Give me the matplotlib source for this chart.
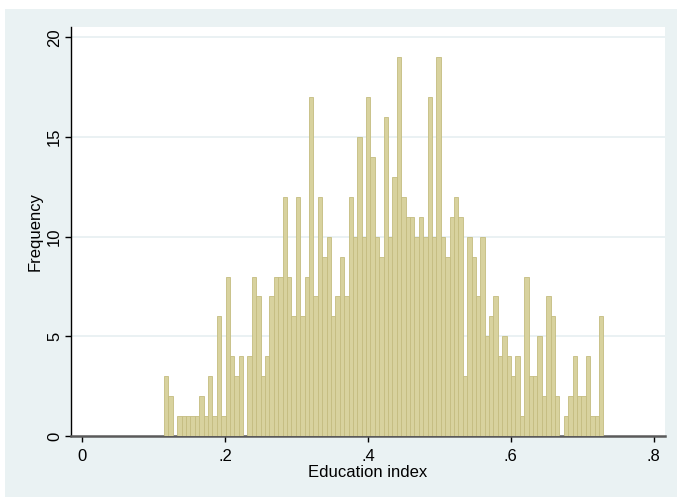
import matplotlib
matplotlib.use("Agg")
import matplotlib.pyplot as plt
import numpy as np

# Histogram of the education index: 100 equal-width bins
bin_start = 0.1143
bin_width = 0.006153
counts = [3, 2, 0, 1, 1, 1, 1, 1, 2, 1,
          3, 1, 6, 1, 8, 4, 3, 4, 0, 4,
          8, 7, 3, 4, 7, 8, 8, 12, 8, 6,
          12, 6, 8, 17, 7, 12, 9, 10, 6, 7,
          9, 7, 12, 10, 15, 10, 17, 14, 10, 9,
          16, 10, 13, 19, 12, 11, 11, 10, 11, 10,
          17, 10, 19, 10, 9, 11, 12, 11, 3, 10,
          9, 7, 10, 5, 6, 7, 4, 5, 4, 3,
          4, 1, 8, 3, 3, 5, 2, 7, 6, 2,
          0, 1, 2, 4, 2, 2, 4, 1, 1, 6]
x_ticks = [0, 0.2, 0.4, 0.6, 0.8]
x_tick_labels = ["0", ".2", ".4", ".6", ".8"]
y_ticks = [0, 5, 10, 15, 20]
y_tick_labels = ["0", "5", "10", "15", "20"]

plt.rcParams["font.family"] = ["Liberation Sans", "DejaVu Sans"]

W, H = 677, 497
fig = plt.figure(figsize=(W / 100, H / 100), dpi=100)
fig.patch.set_facecolor("white")

# light blue-grey graph region behind the plot area
bg = fig.add_axes([5 / W, 0, 1 - 5 / W, 1 - 9 / H], zorder=-5)
bg.set_facecolor("#EAF2F3")
bg.set_xticks([])
bg.set_yticks([])
for s in bg.spines.values():
    s.set_visible(False)

ax = fig.add_axes([71 / W, (H - 436) / H, (665 - 71) / W, (436 - 27) / H])
ax.set_facecolor("white")

edges = bin_start + bin_width * np.arange(len(counts))
heights = np.array(counts, dtype=float)
nz = heights > 0
ax.bar(edges[nz], heights[nz], width=bin_width, align="edge",
       facecolor="#D8D29E", edgecolor="#C4BC80", linewidth=0.6, zorder=3)

ax.set_xlim(-0.016, 0.816)
ax.set_ylim(0, 20.52)

for yv in y_ticks[1:]:
    ax.axhline(yv, color="#E6EFF1", linewidth=1.2, zorder=1)

ax.set_xticks(x_ticks)
ax.set_xticklabels(x_tick_labels)
ax.set_yticks(y_ticks)
ax.set_yticklabels(y_tick_labels, rotation=90, va="center")

ax.tick_params(axis="both", direction="out", length=4.3, width=1,
               color="black", labelsize=12)
ax.tick_params(axis="x", pad=5)
ax.tick_params(axis="y", pad=2)

for s in ("top", "right"):
    ax.spines[s].set_visible(False)
ax.spines["left"].set_color("black")
ax.spines["left"].set_linewidth(1)
ax.spines["bottom"].set_color("#5A5A5A")
ax.spines["bottom"].set_linewidth(1.8)

ax.set_xlabel("Education index", fontsize=12, labelpad=1)
ax.set_ylabel("Frequency", fontsize=12, labelpad=3)

fig.savefig("out.png", dpi=100)
